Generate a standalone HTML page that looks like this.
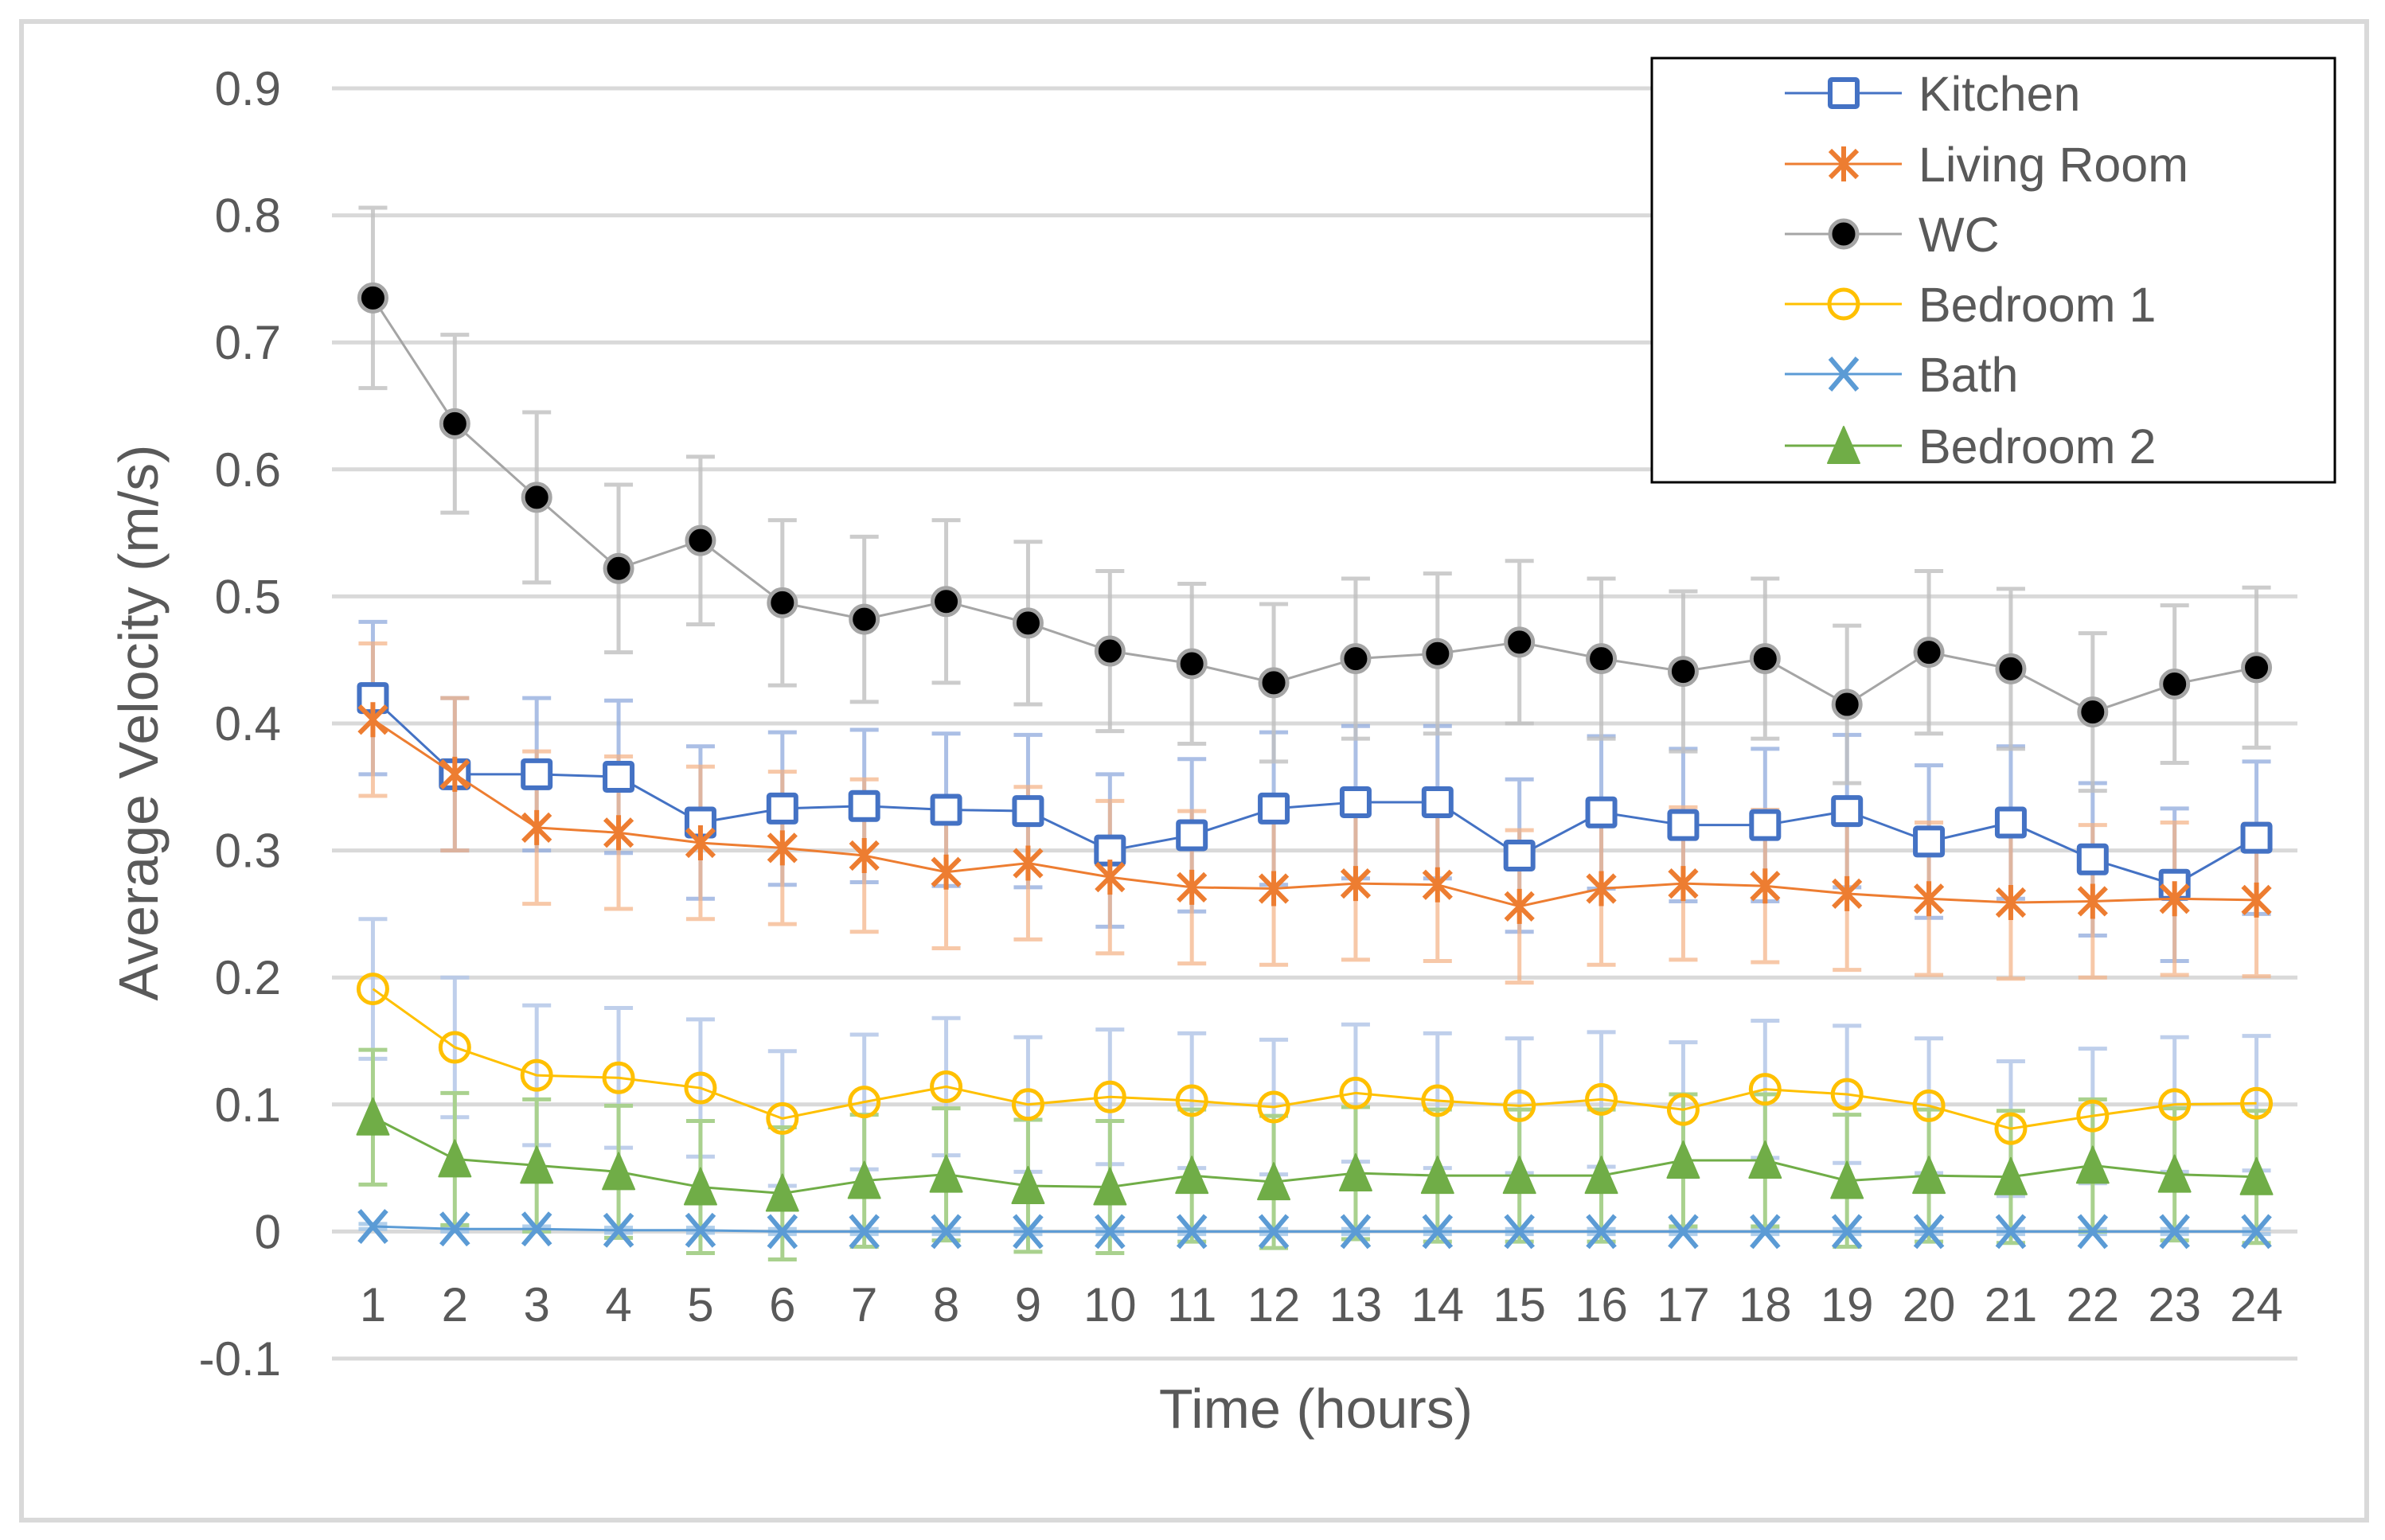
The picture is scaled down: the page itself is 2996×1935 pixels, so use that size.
<!DOCTYPE html>
<html><head><meta charset="utf-8"><style>
html,body{margin:0;padding:0;background:#fff}
svg{display:block}
text{font-family:"Liberation Sans",sans-serif;fill:#595959}
</style></head><body>
<svg id="chart" width="2996" height="1935" viewBox="0 0 2996 1935" xmlns="http://www.w3.org/2000/svg">
<rect x="27" y="27" width="2946" height="1883" fill="#fff" stroke="#d9d9d9" stroke-width="6"/>
<g id="grid"></g>
<g id="yticks"></g>
<g id="xticks"></g>
<g id="errs"></g>
<g id="series"></g>
<text x="1653" y="1794" font-size="70" text-anchor="middle">Time (hours)</text>
<text transform="translate(198,908) rotate(-90)" font-size="70" text-anchor="middle">Average Velocity (m/s)</text>
<g id="legend">
<rect x="2075" y="73" width="858" height="533" fill="#fff" stroke="#000" stroke-width="3"/>
</g>
</svg>
<script>
const hours = [1,2,3,4,5,6,7,8,9,10,11,12,13,14,15,16,17,18,19,20,21,22,23,24];
const yTicks = [-0.1,0,0.1,0.2,0.3,0.4,0.5,0.6,0.7,0.8,0.9];
const yTickLabels = ["-0.1","0","0.1","0.2","0.3","0.4","0.5","0.6","0.7","0.8","0.9"];
const seriesNames = ["Kitchen","Living Room","WC","Bedroom 1","Bath","Bedroom 2"];
const kitchen = [0.42,0.36,0.36,0.358,0.322,0.333,0.335,0.332,0.331,0.3,0.312,0.333,0.338,0.338,0.296,0.33,0.32,0.32,0.331,0.307,0.322,0.293,0.273,0.31];
const livingRoom = [0.403,0.36,0.318,0.314,0.306,0.302,0.296,0.283,0.29,0.279,0.271,0.27,0.274,0.273,0.256,0.27,0.274,0.272,0.266,0.262,0.259,0.26,0.262,0.261];
const wc = [0.735,0.636,0.578,0.522,0.544,0.495,0.482,0.496,0.479,0.457,0.447,0.432,0.451,0.455,0.464,0.451,0.441,0.451,0.415,0.456,0.443,0.409,0.431,0.444];
const bedroom1 = [0.191,0.145,0.123,0.121,0.113,0.089,0.102,0.114,0.1,0.106,0.103,0.098,0.109,0.103,0.099,0.104,0.096,0.112,0.108,0.099,0.081,0.091,0.1,0.101];
const bath = [0.004,0.002,0.002,0.001,0.001,0,0,0,0,0,0,0,0,0,0,0,0,0,0,0,0,0,0,0];
const bedroom2 = [0.09,0.057,0.052,0.047,0.035,0.03,0.04,0.045,0.036,0.035,0.044,0.039,0.046,0.044,0.044,0.044,0.056,0.056,0.04,0.044,0.043,0.052,0.045,0.043];
const kitchenErr = [0.06,0.06,0.06,0.06,0.06,0.06,0.06,0.06,0.06,0.06,0.06,0.06,0.06,0.06,0.06,0.06,0.06,0.06,0.06,0.06,0.06,0.06,0.06,0.06];
const livingErr = [0.06,0.06,0.06,0.06,0.06,0.06,0.06,0.06,0.06,0.06,0.06,0.06,0.06,0.06,0.06,0.06,0.06,0.06,0.06,0.06,0.06,0.06,0.06,0.06];
const wcErr = [0.071,0.07,0.067,0.066,0.066,0.065,0.065,0.064,0.064,0.063,0.063,0.062,0.063,0.063,0.064,0.063,0.063,0.063,0.062,0.064,0.063,0.062,0.062,0.063];
const bedroom1Err = [0.055,0.055,0.055,0.055,0.054,0.053,0.053,0.054,0.053,0.053,0.053,0.053,0.054,0.053,0.053,0.053,0.053,0.054,0.054,0.053,0.053,0.053,0.053,0.053];
const bathErr = [0.002,0.002,0.002,0.002,0.002,0.002,0.002,0.002,0.002,0.002,0.002,0.002,0.002,0.002,0.002,0.002,0.002,0.002,0.002,0.002,0.002,0.002,0.002,0.002];
const bedroom2Err = [0.053,0.052,0.052,0.052,0.052,0.052,0.052,0.052,0.052,0.052,0.052,0.052,0.052,0.052,0.052,0.052,0.052,0.052,0.052,0.052,0.052,0.052,0.052,0.052];

const NS="http://www.w3.org/2000/svg";
const X0=417,X1=2886,Y0=1707,Y1=111,VMIN=-0.1,VMAX=0.9;
const step=(X1-X0)/hours.length;
function xs(i){return X0+step*(i+0.5);}
function ys(v){return Y0-(v-VMIN)/(VMAX-VMIN)*(Y0-Y1);}
function mk(tag,parent,attrs){const e=document.createElementNS(NS,tag);for(const k in attrs)e.setAttribute(k,attrs[k]);parent.appendChild(e);return e;}

const grid=document.getElementById('grid'),yt=document.getElementById('yticks'),xt=document.getElementById('xticks');
yTicks.forEach((v,i)=>{
  const l=mk('line',grid,{x1:X0,x2:X1,y1:ys(v),y2:ys(v),stroke:'#d9d9d9','stroke-width':5});
  
  
  const t=mk('text',yt,{x:353,y:ys(v)+21,'font-size':60,'text-anchor':'end'});
  t.textContent=yTickLabels[i];
  
  
});
hours.forEach((h,i)=>{
  const t=mk('text',xt,{x:xs(i),y:1660,'font-size':60,'text-anchor':'middle'});
  t.textContent=h;
  
  
});

const defs=[
 {vals:kitchen,err:kitchenErr,color:'#4472c4',ecol:'rgba(143,170,220,0.75)',m:'square'},
 {vals:livingRoom,err:livingErr,color:'#ed7d31',ecol:'rgba(244,177,131,0.7)',m:'star'},
 {vals:wc,err:wcErr,color:'#a5a5a5',ecol:'rgba(191,191,191,0.8)',m:'dot'},
 {vals:bedroom1,err:bedroom1Err,color:'#ffc000',ecol:'rgba(180,199,231,0.85)',m:'circle'},
 {vals:bath,err:bathErr,color:'#5b9bd5',ecol:'rgba(157,195,230,0.8)',m:'x'},
 {vals:bedroom2,err:bedroom2Err,color:'#70ad47',ecol:'rgba(169,209,142,1)',m:'tri'}
];
const errs=document.getElementById('errs'),ser=document.getElementById('series');

function marker(g,type,cx,cy,color){
  let e;
  if(type==='square') e=mk('rect',g,{x:cx-17,y:cy-17,width:34,height:34,fill:'#fff',stroke:color,'stroke-width':6,rx:2});
  else if(type==='dot') e=mk('circle',g,{cx:cx,cy:cy,r:17,fill:'#000',stroke:color,'stroke-width':5});
  else if(type==='circle') e=mk('circle',g,{cx:cx,cy:cy,r:18,fill:'none',stroke:color,'stroke-width':5});
  else if(type==='star') e=mk('path',g,{d:`M${cx-17} ${cy-17}L${cx+17} ${cy+17}M${cx+17} ${cy-17}L${cx-17} ${cy+17}M${cx} ${cy-22}L${cx} ${cy+22}`,stroke:color,'stroke-width':6,fill:'none'});
  else if(type==='x') e=mk('path',g,{d:`M${cx-17} ${cy-20}L${cx+17} ${cy+20}M${cx+17} ${cy-20}L${cx-17} ${cy+20}`,stroke:color,'stroke-width':6,fill:'none'});
  else e=mk('path',g,{d:`M${cx} ${cy-24}L${cx+20} ${cy+22}L${cx-20} ${cy+22}Z`,fill:color,stroke:color,'stroke-width':2,'stroke-linejoin':'round'});
  return e;
}

defs.forEach((s,si)=>{
  s.vals.forEach((v,i)=>{
    const x=xs(i),a=ys(v+s.err[i]),b=ys(v-s.err[i]);
    const p=mk('path',errs,{d:`M${x} ${a}L${x} ${b}M${x-18} ${a}L${x+18} ${a}M${x-18} ${b}L${x+18} ${b}`,stroke:s.ecol,'stroke-width':5,fill:'none'});
    
    
  });
});
defs.forEach((s,si)=>{
  const g=mk('g',ser,{});
  
  
  const pl=mk('polyline',g,{points:s.vals.map((v,i)=>xs(i)+','+ys(v)).join(' '),fill:'none',stroke:s.color,'stroke-width':3});
  
  
  s.vals.forEach((v,i)=>{
    const m=marker(g,s.m,xs(i),ys(v),s.color);
    
    
  });
});

const lg=document.getElementById('legend');
const ly=[117,206,294,382,470,560];
defs.forEach((s,si)=>{
  const g=mk('g',lg,{});
  
  
  mk('line',g,{x1:2242,x2:2389,y1:ly[si],y2:ly[si],stroke:s.color,'stroke-width':3});
  marker(g,s.m,2316,ly[si],s.color);
  const t=mk('text',g,{x:2410,y:ly[si]+22,'font-size':61});
  t.textContent=seriesNames[si];
});
</script>
</body></html>
